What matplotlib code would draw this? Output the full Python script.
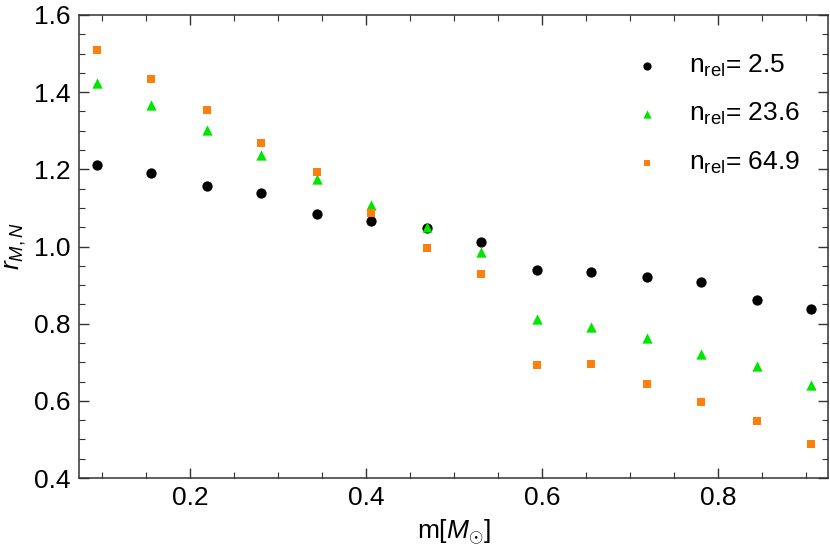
import numpy as np
import matplotlib.pyplot as plt
from matplotlib.ticker import MultipleLocator

plt.rcParams['font.family'] = ['Liberation Sans', 'DejaVu Sans']
plt.rcParams['mathtext.fontset'] = 'custom'
plt.rcParams['mathtext.rm'] = 'Liberation Sans'
plt.rcParams['mathtext.it'] = 'Liberation Sans:italic'

# mass bins [M_sun]
m = [0.094, 0.156, 0.219, 0.281, 0.344, 0.406, 0.469,
     0.531, 0.594, 0.656, 0.719, 0.781, 0.844, 0.906]

r_25 = [1.210, 1.191, 1.158, 1.138, 1.084, 1.066, 1.047,
        1.011, 0.938, 0.935, 0.922, 0.907, 0.862, 0.837]
r_236 = [1.423, 1.366, 1.302, 1.238, 1.175, 1.108, 1.050,
         0.985, 0.812, 0.791, 0.763, 0.722, 0.691, 0.640]
r_649 = [1.508, 1.435, 1.355, 1.267, 1.192, 1.088, 0.997,
         0.930, 0.693, 0.696, 0.643, 0.597, 0.549, 0.487]

labels = [r'n$_{\mathrm{rel}}$= 2.5', r'n$_{\mathrm{rel}}$= 23.6', r'n$_{\mathrm{rel}}$= 64.9']

fig = plt.figure(figsize=(8.3, 5.54), dpi=100)
ax = fig.add_axes([79 / 830, 1 - 478 / 554, (828 - 79) / 830, (478 - 15) / 554])

ax.scatter(m, r_25, s=55, marker='o', color='black', lw=0, label=labels[0], zorder=3)
ax.scatter(m, r_236, s=55, marker='^', color='#00e600', lw=0, label=labels[1], zorder=3)
ax.scatter(m, r_649, s=32, marker='s', color='#ff7f0e', lw=0, label=labels[2], zorder=3)

ax.set_xlim(0.074, 0.925)
ax.set_ylim(0.4, 1.6)
ax.xaxis.set_major_locator(MultipleLocator(0.2))
ax.xaxis.set_minor_locator(MultipleLocator(0.05))
ax.yaxis.set_major_locator(MultipleLocator(0.2))
ax.yaxis.set_minor_locator(MultipleLocator(0.05))
ax.xaxis.set_major_formatter(plt.FuncFormatter(lambda v, p: f'{v:.1f}'))
ax.yaxis.set_major_formatter(plt.FuncFormatter(lambda v, p: f'{v:.1f}'))
ax.tick_params(which='both', direction='in', top=True, right=True, labelsize=19, color='#333333')
ax.tick_params(which='major', length=7, width=1, pad=6)
ax.tick_params(which='minor', length=4, width=0.8)
for s in ax.spines.values():
    s.set_color('#333333')
    s.set_linewidth(1.1)

ax.set_xlabel(r'm[$M_{\odot}$]', fontsize=19, labelpad=5)
ax.set_ylabel(r'$r_{M,N}$', fontsize=19, labelpad=4)

ax.legend(loc='upper right', bbox_to_anchor=(0.995, 0.97), frameon=False, fontsize=19,
          markerscale=0.8, handletextpad=0.6, labelspacing=0.85, scatterpoints=1)

fig.savefig('out.png', dpi=100)
